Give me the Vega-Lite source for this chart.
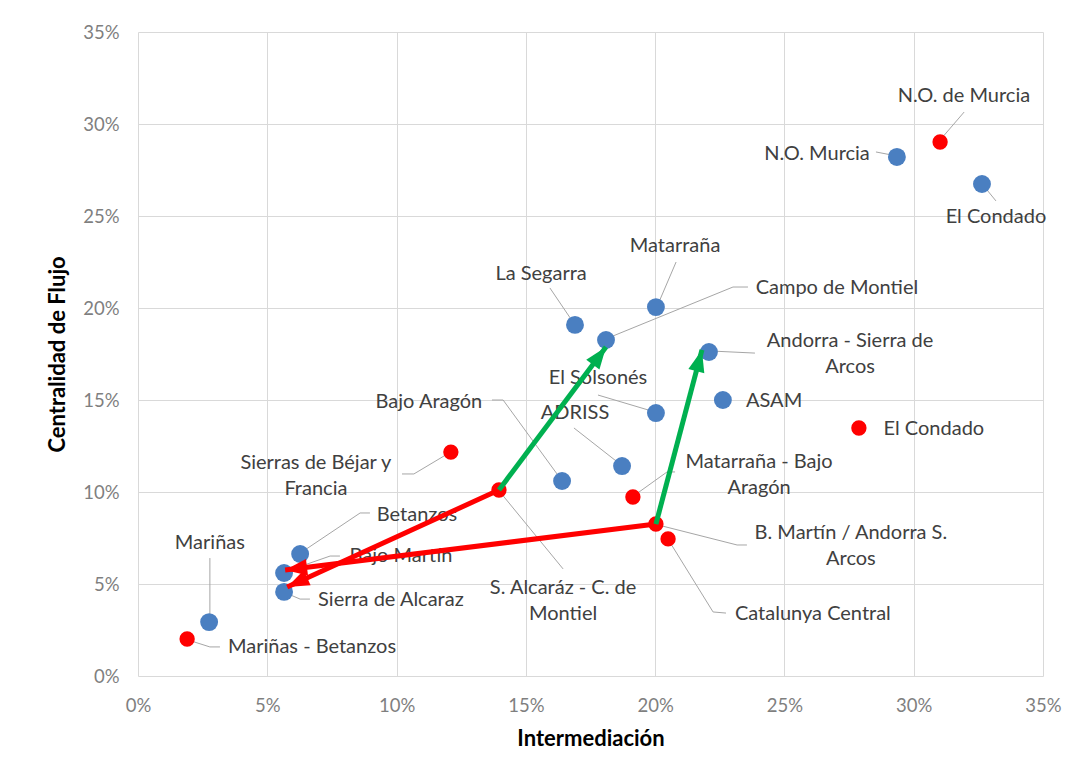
{
  "$schema": "https://vega.github.io/schema/vega-lite/v6.json",
  "width": 905,
  "height": 644,
  "autosize": {"type": "none"},
  "padding": {"left": 138, "top": 32, "right": 28, "bottom": 104},
  "background": "white",
  "config": {
    "view": {"stroke": null},
    "font": "Lato",
    "axis": {
      "domain": false,
      "ticks": false,
      "labelFlush": false,
      "gridColor": "#d9d9d9",
      "gridWidth": 1,
      "labelFont": "Lato",
      "labelFontSize": 18.5,
      "labelColor": "#7f7f7f",
      "titleFont": "Lato",
      "titleFontSize": 22,
      "titleFontWeight": "bold",
      "titleColor": "#000000"
    }
  },
  "resolve": {"scale": {"color": "independent", "size": "independent"}},
  "datasets": {
    "points": [
      {"name": "N.O. Murcia", "grp": "a", "x": 29.35, "y": 28.21},
      {"name": "El Condado", "grp": "a", "x": 32.64, "y": 26.74},
      {"name": "Matarraña", "grp": "a", "x": 20.03, "y": 20.05},
      {"name": "La Segarra", "grp": "a", "x": 16.9, "y": 19.08},
      {"name": "Campo de Montiel", "grp": "a", "x": 18.1, "y": 18.26},
      {"name": "Andorra - Sierra de Arcos", "grp": "a", "x": 22.08, "y": 17.61},
      {"name": "ASAM", "grp": "a", "x": 22.62, "y": 15.0},
      {"name": "El Solsonés", "grp": "a", "x": 20.03, "y": 14.29},
      {"name": "ADRISS", "grp": "a", "x": 18.72, "y": 11.41},
      {"name": "Bajo Aragón", "grp": "a", "x": 16.4, "y": 10.6},
      {"name": "Betanzos", "grp": "a", "x": 6.27, "y": 6.63},
      {"name": "Bajo Martín", "grp": "a", "x": 5.65, "y": 5.6},
      {"name": "Sierra de Alcaraz", "grp": "a", "x": 5.65, "y": 4.57},
      {"name": "Mariñas", "grp": "a", "x": 2.75, "y": 2.93},
      {"name": "N.O. de Murcia", "grp": "b", "x": 31.02, "y": 29.02},
      {"name": "El Condado", "grp": "b", "x": 27.88, "y": 13.48},
      {"name": "Sierras de Béjar y Francia", "grp": "b", "x": 12.1, "y": 12.17},
      {"name": "S. Alcaráz - C. de Montiel", "grp": "b", "x": 13.96, "y": 10.11},
      {"name": "Matarraña - Bajo Aragón", "grp": "b", "x": 19.14, "y": 9.73},
      {"name": "B. Martín / Andorra S. Arcos", "grp": "b", "x": 20.03, "y": 8.26},
      {"name": "Catalunya Central", "grp": "b", "x": 20.5, "y": 7.45},
      {"name": "Mariñas - Betanzos", "grp": "b", "x": 1.9, "y": 2.01}
    ],
    "labels": [
      {"label": "N.O. de Murcia", "x": 31.94, "y": 31.52},
      {"label": "N.O. Murcia", "x": 26.26, "y": 28.37},
      {"label": "El Condado", "x": 33.18, "y": 24.95},
      {"label": "Matarraña", "x": 20.77, "y": 23.37},
      {"label": "La Segarra", "x": 15.59, "y": 21.85},
      {"label": "Campo de Montiel", "x": 27.03, "y": 21.09},
      {"label": "Andorra  - Sierra de\nArcos", "x": 27.54, "y": 18.18},
      {"label": "ASAM", "x": 24.6, "y": 14.95},
      {"label": "El Condado", "x": 30.78, "y": 13.42},
      {"label": "El Solsonés", "x": 17.79, "y": 16.2},
      {"label": "ADRISS", "x": 16.9, "y": 14.29},
      {"label": "Bajo Aragón", "x": 11.25, "y": 14.89},
      {"label": "Sierras de Béjar y\nFrancia", "x": 6.88, "y": 11.55},
      {"label": "Betanzos", "x": 10.79, "y": 8.76},
      {"label": "Bajo Martín", "x": 10.17, "y": 6.52},
      {"label": "Sierra de Alcaraz", "x": 9.78, "y": 4.13},
      {"label": "Mariñas", "x": 2.78, "y": 7.23},
      {"label": "Mariñas - Betanzos", "x": 6.73, "y": 1.58},
      {"label": "S. Alcaráz - C. de\nMontiel", "x": 16.44, "y": 4.8},
      {"label": "Matarraña - Bajo\nAragón", "x": 24.02, "y": 11.65},
      {"label": "B. Martín / Andorra S.\nArcos", "x": 27.57, "y": 7.77},
      {"label": "Catalunya Central", "x": 26.1, "y": 3.37}
    ],
    "leaders": [
      {"id": 1, "seq": 1, "x": 31.95, "y": 30.65}, {"id": 1, "seq": 2, "x": 31.02, "y": 29.13},
      {"id": 2, "seq": 1, "x": 28.54, "y": 28.48}, {"id": 2, "seq": 2, "x": 29.35, "y": 28.26},
      {"id": 3, "seq": 1, "x": 33.18, "y": 25.82}, {"id": 3, "seq": 2, "x": 32.68, "y": 26.68},
      {"id": 4, "seq": 1, "x": 20.81, "y": 22.5}, {"id": 4, "seq": 2, "x": 20.15, "y": 20.33},
      {"id": 5, "seq": 1, "x": 15.93, "y": 21.09}, {"id": 5, "seq": 2, "x": 16.82, "y": 19.24},
      {"id": 6, "seq": 1, "x": 23.59, "y": 21.14}, {"id": 6, "seq": 2, "x": 23.01, "y": 21.14}, {"id": 6, "seq": 3, "x": 18.18, "y": 18.37},
      {"id": 7, "seq": 1, "x": 23.86, "y": 17.55}, {"id": 7, "seq": 2, "x": 22.2, "y": 17.66},
      {"id": 8, "seq": 1, "x": 17.79, "y": 15.27}, {"id": 8, "seq": 2, "x": 19.99, "y": 14.35},
      {"id": 9, "seq": 1, "x": 16.86, "y": 13.48}, {"id": 9, "seq": 2, "x": 18.64, "y": 11.52},
      {"id": 10, "seq": 1, "x": 13.69, "y": 15.0}, {"id": 10, "seq": 2, "x": 14.12, "y": 15.0}, {"id": 10, "seq": 3, "x": 16.32, "y": 10.76},
      {"id": 11, "seq": 1, "x": 10.21, "y": 10.98}, {"id": 11, "seq": 2, "x": 10.67, "y": 10.98}, {"id": 11, "seq": 3, "x": 12.03, "y": 12.12},
      {"id": 12, "seq": 1, "x": 8.97, "y": 8.86}, {"id": 12, "seq": 2, "x": 8.59, "y": 8.86}, {"id": 12, "seq": 3, "x": 6.34, "y": 6.74},
      {"id": 13, "seq": 1, "x": 7.81, "y": 6.52}, {"id": 13, "seq": 2, "x": 7.43, "y": 6.52}, {"id": 13, "seq": 3, "x": 5.88, "y": 5.76},
      {"id": 14, "seq": 1, "x": 6.65, "y": 4.18}, {"id": 14, "seq": 2, "x": 6.27, "y": 4.18}, {"id": 14, "seq": 3, "x": 5.72, "y": 4.51},
      {"id": 15, "seq": 1, "x": 2.78, "y": 6.41}, {"id": 15, "seq": 2, "x": 2.78, "y": 3.04},
      {"id": 16, "seq": 1, "x": 3.17, "y": 1.58}, {"id": 16, "seq": 2, "x": 2.78, "y": 1.58}, {"id": 16, "seq": 3, "x": 1.93, "y": 1.96},
      {"id": 17, "seq": 1, "x": 16.44, "y": 5.82}, {"id": 17, "seq": 2, "x": 14.0, "y": 10.0},
      {"id": 18, "seq": 1, "x": 20.77, "y": 11.09}, {"id": 18, "seq": 2, "x": 20.46, "y": 11.09}, {"id": 18, "seq": 3, "x": 19.22, "y": 9.84},
      {"id": 19, "seq": 1, "x": 23.55, "y": 7.12}, {"id": 19, "seq": 2, "x": 23.17, "y": 7.12}, {"id": 19, "seq": 3, "x": 20.11, "y": 8.21},
      {"id": 20, "seq": 1, "x": 22.74, "y": 3.42}, {"id": 20, "seq": 2, "x": 22.24, "y": 3.48}, {"id": 20, "seq": 3, "x": 20.54, "y": 7.34}
    ],
    "arrows": [
      {"id": "r1", "col": "red", "x": 13.96, "y": 10.11, "xe": 5.77, "ye": 4.84},
      {"id": "r2", "col": "red", "x": 20.03, "y": 8.26, "xe": 5.69, "ye": 5.76},
      {"id": "g1", "col": "green", "x": 13.96, "y": 10.11, "xe": 18.1, "ye": 17.88},
      {"id": "g2", "col": "green", "x": 20.03, "y": 8.26, "xe": 21.81, "ye": 17.72}
    ]
  },
  "encoding": {
    "x": {
      "field": "x", "type": "quantitative",
      "scale": {"domain": [0, 35], "nice": false, "zero": false},
      "axis": {"values": [0, 5, 10, 15, 20, 25, 30, 35], "labelExpr": "datum.value + '%'", "labelPadding": 20, "titlePadding": 14, "title": "Intermediación"}
    },
    "y": {
      "field": "y", "type": "quantitative",
      "scale": {"domain": [0, 35], "nice": false, "zero": false},
      "axis": {"values": [0, 5, 10, 15, 20, 25, 30, 35], "labelExpr": "datum.value + '%'", "labelPadding": 19, "titlePadding": 13, "title": "Centralidad de Flujo"}
    }
  },
  "layer": [
    {
      "data": {"name": "leaders"},
      "mark": {"type": "line", "color": "#a6a6a6", "strokeWidth": 1},
      "encoding": {"detail": {"field": "id", "type": "nominal"}, "order": {"field": "seq", "type": "quantitative"}}
    },
    {
      "data": {"name": "points"},
      "mark": {"type": "circle", "opacity": 1},
      "encoding": {
        "color": {"field": "grp", "type": "nominal", "scale": {"domain": ["a", "b"], "range": ["#4a7fc1", "#ff0000"]}, "legend": null},
        "size": {"field": "grp", "type": "nominal", "scale": {"domain": ["a", "b"], "range": [320, 235]}, "legend": null}
      }
    },
    {
      "data": {"name": "labels"},
      "mark": {"type": "text", "font": "Lato", "fontSize": 20, "color": "#404040", "lineBreak": "\n", "lineHeight": 26, "align": "center", "baseline": "middle"},
      "encoding": {"text": {"field": "label", "type": "nominal"}}
    },
    {
      "data": {"name": "arrows"},
      "mark": {"type": "rule", "strokeWidth": 5},
      "encoding": {
        "x2": {"field": "xe"},
        "y2": {"field": "ye"},
        "color": {"field": "col", "type": "nominal", "scale": {"domain": ["red", "green"], "range": ["#ff0000", "#00b050"]}, "legend": null}
      }
    },
    {
      "data": {"name": "arrows"},
      "transform": [{"filter": {"field": "id", "equal": "r1"}}],
      "mark": {"type": "point", "filled": true, "opacity": 1, "color": "#ff0000", "shape": "M0,0L0.75,2L-0.75,2Z", "size": 484, "angle": 245.4},
      "encoding": {"x": {"field": "xe", "type": "quantitative", "title": "Intermediación"}, "y": {"field": "ye", "type": "quantitative", "title": "Centralidad de Flujo"}}
    },
    {
      "data": {"name": "arrows"},
      "transform": [{"filter": {"field": "id", "equal": "r2"}}],
      "mark": {"type": "point", "filled": true, "opacity": 1, "color": "#ff0000", "shape": "M0,0L0.75,2L-0.75,2Z", "size": 484, "angle": 262.9},
      "encoding": {"x": {"field": "xe", "type": "quantitative", "title": "Intermediación"}, "y": {"field": "ye", "type": "quantitative", "title": "Centralidad de Flujo"}}
    },
    {
      "data": {"name": "arrows"},
      "transform": [{"filter": {"field": "id", "equal": "g1"}}],
      "mark": {"type": "point", "filled": true, "opacity": 1, "color": "#00b050", "shape": "M0,0L0.75,2L-0.75,2Z", "size": 484, "angle": 36.8},
      "encoding": {"x": {"field": "xe", "type": "quantitative", "title": "Intermediación"}, "y": {"field": "ye", "type": "quantitative", "title": "Centralidad de Flujo"}}
    },
    {
      "data": {"name": "arrows"},
      "transform": [{"filter": {"field": "id", "equal": "g2"}}],
      "mark": {"type": "point", "filled": true, "opacity": 1, "color": "#00b050", "shape": "M0,0L0.75,2L-0.75,2Z", "size": 484, "angle": 14.8},
      "encoding": {"x": {"field": "xe", "type": "quantitative", "title": "Intermediación"}, "y": {"field": "ye", "type": "quantitative", "title": "Centralidad de Flujo"}}
    }
  ]
}
